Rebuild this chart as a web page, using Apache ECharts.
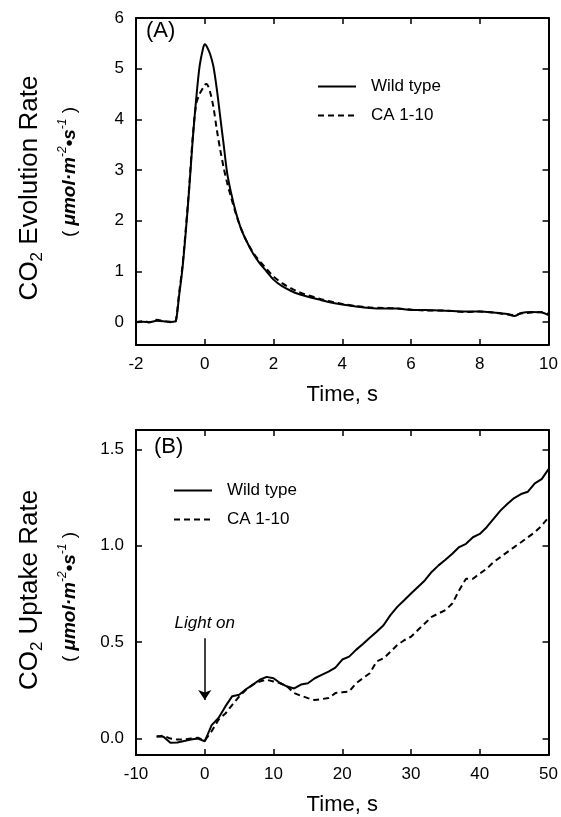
<!DOCTYPE html>
<html>
<head>
<meta charset="utf-8">
<script src="https://cdn.jsdelivr.net/npm/echarts@6/dist/echarts.min.js"></script>
<style>
html,body{margin:0;padding:0;background:#fff;}
#c{width:561px;height:817px;}
</style>
</head>
<body>
<div id="c"></div>
<script>
// Panel A: CO2 evolution rate vs time (s)
const tA = [-2,-1.8,-1.6,-1.4,-1.2,-1.0,-0.9,-0.84,-0.75,-0.65,-0.55,-0.45,-0.35,-0.25,-0.15,-0.05,0,0.05,0.15,0.25,0.35,0.45,0.55,0.65,0.75,0.9,1.05,1.2,1.4,1.6,1.8,2.0,2.25,2.5,2.75,3.0,3.3,3.6,4.0,4.4,4.8,5.2,5.6,6.0,6.4,6.8,7.2,7.6,8.0,8.4,8.8,9.0,9.2,9.5,9.8,10];
const wildA = [0,0.01,0.0,0.03,0.02,0.0,0.01,0.02,0.5,1.05,1.8,2.65,3.6,4.4,5.05,5.4,5.48,5.45,5.3,5.05,4.6,4.05,3.5,2.95,2.6,2.18,1.85,1.62,1.36,1.16,1.0,0.84,0.71,0.62,0.55,0.5,0.45,0.4,0.35,0.31,0.28,0.27,0.27,0.24,0.24,0.23,0.22,0.21,0.21,0.19,0.16,0.12,0.18,0.2,0.19,0.14];
const caA = [0,0.02,0.0,0.05,0.02,0.01,0.0,0.03,0.55,1.1,1.85,2.7,3.65,4.3,4.5,4.62,4.68,4.7,4.55,4.25,3.8,3.4,3.05,2.75,2.5,2.15,1.86,1.62,1.38,1.2,1.05,0.9,0.77,0.67,0.59,0.53,0.47,0.42,0.36,0.32,0.29,0.28,0.27,0.25,0.23,0.23,0.22,0.2,0.21,0.19,0.15,0.14,0.17,0.19,0.2,0.16];

// Panel B: CO2 uptake rate vs time (s)
const tB = [-7,-6,-5,-4,-3,-2,-1,0,1,2,3,4,5,6,7,8,9,10,11,12,13,14,15,16,17,18,19,20,21,22,23,24,25,26,27,28,29,30,31,32,33,34,35,36,37,38,39,40,41,42,43,44,45,46,47,48,49,50];
const wildB = [0.012,0.01,-0.022,-0.02,-0.012,-0.005,0.0,-0.014,0.07,0.107,0.167,0.22,0.227,0.256,0.28,0.305,0.32,0.313,0.287,0.27,0.26,0.28,0.287,0.313,0.33,0.347,0.368,0.41,0.425,0.46,0.49,0.523,0.554,0.588,0.64,0.683,0.717,0.752,0.786,0.82,0.864,0.898,0.927,0.958,0.993,1.01,1.044,1.061,1.096,1.139,1.182,1.216,1.247,1.268,1.28,1.323,1.345,1.397];
const caB = [0.01,0.015,0.0,-0.005,-0.005,0.0,0.005,-0.01,0.038,0.098,0.13,0.175,0.218,0.253,0.28,0.296,0.305,0.296,0.287,0.27,0.236,0.222,0.21,0.2,0.205,0.21,0.236,0.24,0.244,0.287,0.313,0.339,0.4,0.416,0.45,0.485,0.51,0.528,0.563,0.597,0.631,0.649,0.666,0.7,0.769,0.829,0.829,0.855,0.881,0.915,0.941,0.967,0.993,1.018,1.044,1.07,1.104,1.147];

// Tick labels
const yTicksA = [0,1,2,3,4,5,6];
const yTicksB = [0,0.5,1.0,1.5];
const seriesNames = ['Wild type','CA 1-10'];
const arrowB = [[0,0.52],[0,0.2]];

const FONT = "'Liberation Sans', Arial, Helvetica, sans-serif";
const BLACK = '#000';

function xAx(grid, min, max, interval, pos, labels, name){
  return {
    type:'value', gridIndex:grid, min:min, max:max, interval:interval, position:pos,
    axisLine:{show:true, onZero:false, lineStyle:{color:BLACK, width:2}},
    axisTick:{show:true, inside:true, length:6, lineStyle:{color:BLACK, width:1.5}},
    axisLabel:{show:labels, color:BLACK, fontSize:17, fontFamily:FONT, margin:11},
    splitLine:{show:false},
    name: name || '', nameLocation:'middle', nameGap:39,
    nameTextStyle:{color:BLACK, fontSize:22, fontFamily:FONT}
  };
}
function yAx(grid, min, max, ticks, pos, labels, fmt){
  return {
    type:'value', gridIndex:grid, min:min, max:max, position:pos,
    axisLine:{show:true, onZero:false, lineStyle:{color:BLACK, width:2}},
    axisTick:{show:true, inside:true, length:6, customValues:ticks, lineStyle:{color:BLACK, width:1.5}},
    axisLabel:{show:labels, customValues:ticks, color:BLACK, fontSize:17, fontFamily:FONT, margin:12,
      formatter: fmt},
    splitLine:{show:false}
  };
}
function line(name, xs, ys, xi, yi, dashed, extra){
  const s = {
    type:'line', name:name, xAxisIndex:xi, yAxisIndex:yi,
    data: xs.map((x,i)=>[x, ys[i]]),
    symbol:'none', showSymbol:false, smooth:false, animation:false,
    lineStyle:{color:BLACK, width:2, type: dashed ? [6,4] : 'solid'},
    itemStyle:{color:BLACK}
  };
  return Object.assign(s, extra || {});
}

const titleRich = {
  a:{fontSize:26, fontFamily:FONT, color:BLACK, lineHeight:32},
  s:{fontSize:17, fontFamily:FONT, color:BLACK, lineHeight:17, verticalAlign:'bottom'}
};
const unitRich = {
  p:{fontSize:19, fontFamily:FONT, color:BLACK, lineHeight:26},
  i:{fontSize:19, fontFamily:FONT, fontStyle:'italic', fontWeight:'bold', color:BLACK, lineHeight:26},
  sup:{fontSize:12, fontFamily:FONT, fontStyle:'italic', color:BLACK, lineHeight:12, verticalAlign:'top'}
};

function legendAt(left, top){
  return {orient:'vertical', left:left, top:top, itemWidth:38, itemHeight:14, itemGap:12, selectedMode:false,
    data:seriesNames, itemStyle:{opacity:0, borderWidth:0},
    textStyle:{color:BLACK, fontSize:17, fontFamily:FONT, padding:[0,0,0,10]}};
}

const option = {
  backgroundColor:'#fff',
  animation:false,
  grid:[
    {left:136, right:11, top:18, height:327},
    {left:136, right:11, top:430, height:328}
  ],
  xAxis:[
    xAx(0,-2,10,2,'bottom',true,'Time, s'),
    xAx(0,-2,10,2,'top',false),
    xAx(1,-10,50,10,'bottom',true,'Time, s'),
    xAx(1,-10,50,10,'top',false)
  ],
  yAxis:[
    yAx(0,-0.45,6,yTicksA,'left',true),
    yAx(0,-0.45,6,yTicksA,'right',false),
    yAx(1,-0.085,1.6,yTicksB,'left',true,v=>Number(v).toFixed(1)),
    yAx(1,-0.085,1.6,yTicksB,'right',false)
  ],
  legend:[legendAt(312,73), legendAt(168,477)],
  series:[
    line(seriesNames[0], tA, wildA, 0, 0, false, {smooth:0.3}),
    line(seriesNames[1], tA, caA, 0, 0, true, {smooth:0.3}),
    line(seriesNames[0], tB, wildB, 2, 2, false, {
      markLine:{
        silent:true, symbol:['none','arrow'], symbolSize:10, animation:false,
        lineStyle:{color:BLACK, width:1.5, type:'solid'},
        label:{show:true, position:'start', distance:7, formatter:'Light on',
               color:BLACK, fontSize:17, fontStyle:'italic', fontFamily:FONT},
        data:[[{coord:arrowB[0]},{coord:arrowB[1]}]]
      }
    }),
    line(seriesNames[1], tB, caB, 2, 2, true)
  ],
  graphic:[
    {type:'text', left:146, top:20, style:{text:'(A)', fontSize:22, fontFamily:FONT, fill:BLACK}},
    {type:'text', left:154, top:436, style:{text:'(B)', fontSize:22, fontFamily:FONT, fill:BLACK}},
    {type:'text', x:30, y:188, rotation:Math.PI/2,
     style:{text:'{a|CO}{s|2}{a| Evolution Rate}', rich:titleRich, align:'center', verticalAlign:'middle'}},
    {type:'text', x:70, y:172, rotation:Math.PI/2,
     style:{text:'{p|( }{i|μmol·m}{sup|-2}{i|•s}{sup|-1}{p| )}', rich:unitRich, align:'center', verticalAlign:'middle'}},
    {type:'text', x:30, y:590, rotation:Math.PI/2,
     style:{text:'{a|CO}{s|2}{a| Uptake Rate}', rich:titleRich, align:'center', verticalAlign:'middle'}},
    {type:'text', x:70, y:597, rotation:Math.PI/2,
     style:{text:'{p|( }{i|μmol·m}{sup|-2}{i|•s}{sup|-1}{p| )}', rich:unitRich, align:'center', verticalAlign:'middle'}}
  ]
};

const chart = echarts.init(document.getElementById('c'), null, {renderer:'canvas'});
chart.setOption(option);
</script>
</body>
</html>
